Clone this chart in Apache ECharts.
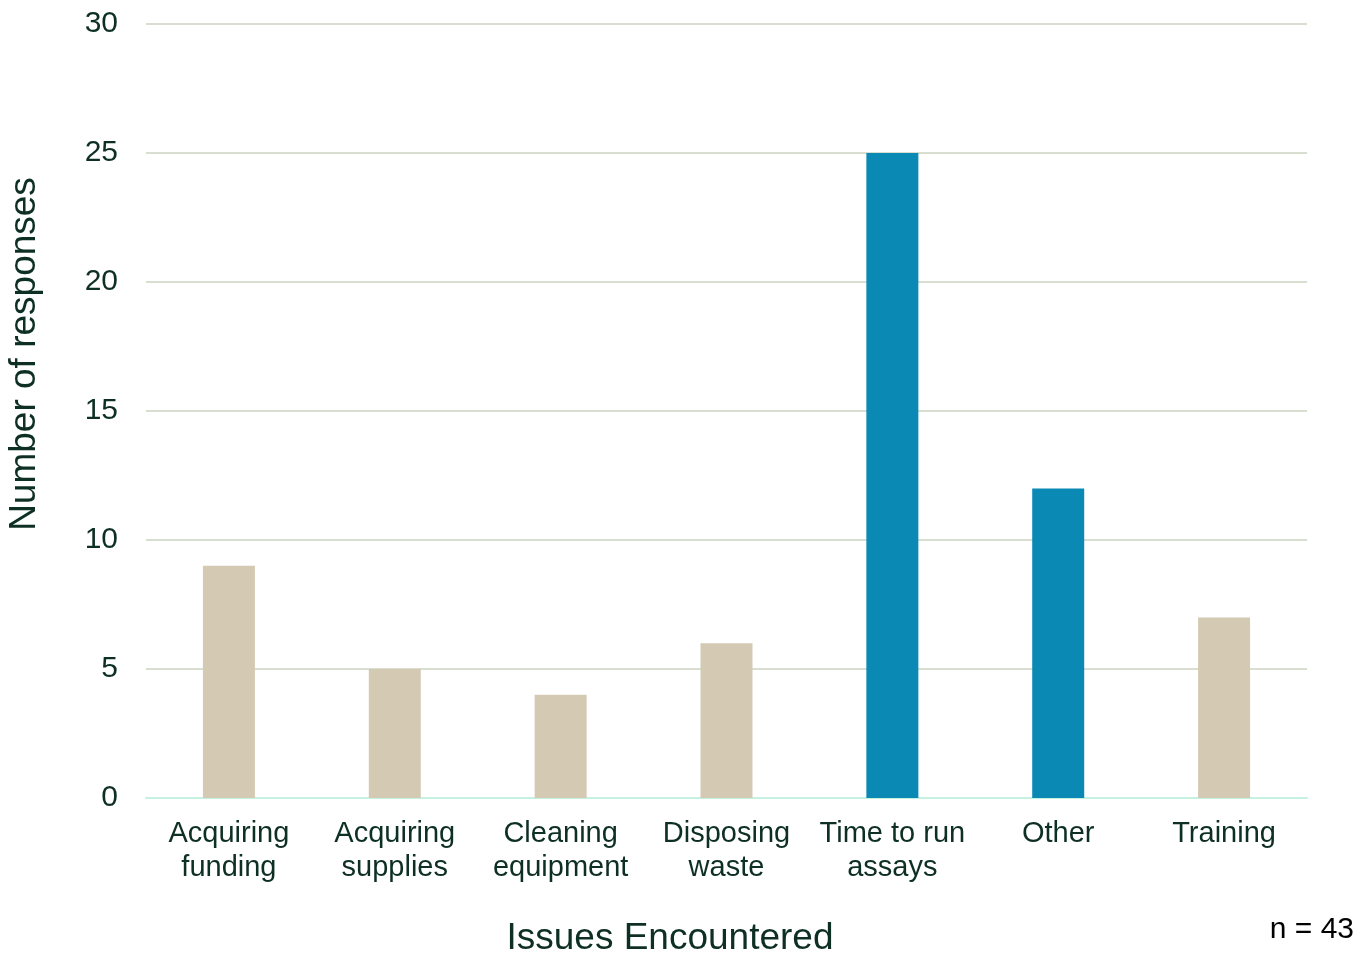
<!DOCTYPE html>
<html><head><meta charset="utf-8">
<script src="https://cdn.jsdelivr.net/npm/echarts@6/dist/echarts.min.js"></script>
<style>html,body{margin:0;padding:0;background:#fff}#c{width:1363px;height:953px}</style>
</head><body><div id="c"></div>
<script>
var categories = ["Acquiring\nfunding","Acquiring\nsupplies","Cleaning\nequipment","Disposing\nwaste","Time to run\nassays","Other","Training"];
var values = [9,5,4,6,25,12,7];
var highlighted = [false,false,false,false,true,true,false];
var yTicks = [0,5,10,15,20,25,30];

var beige = '#D4CAB3', blue = '#0B89B5', textCol = '#0E2F24';
var chart = echarts.init(document.getElementById('c'));
chart.setOption({
  animation:false,
  textStyle:{fontFamily:'Liberation Sans, Arial, sans-serif'},
  grid:{left:146,right:56,top:24,bottom:155,containLabel:false},
  xAxis:{type:'category',data:categories,
    axisLine:{lineStyle:{color:'#C6F0E0',width:2}},axisTick:{show:false},
    axisLabel:{color:textCol,fontSize:29,lineHeight:34,margin:19,interval:0}},
  yAxis:{type:'value',min:yTicks[0],max:yTicks[yTicks.length-1],interval:5,
    axisLine:{show:false},axisTick:{show:false},
    splitLine:{lineStyle:{color:'#D9DFD0',width:2}},
    axisLabel:{color:textCol,fontSize:30,margin:28}},
  series:[{type:'bar',barWidth:52,
    data:values.map(function(v,i){return {value:v,itemStyle:{color:highlighted[i]?blue:beige}};})}],
  graphic:[
    {type:'text',style:{text:'Issues Encountered',fill:textCol,font:'37px Liberation Sans, Arial, sans-serif',textAlign:'center',textVerticalAlign:'middle'},position:[670,939]},
    {type:'text',style:{text:'Number of responses',fill:textCol,font:'37px Liberation Sans, Arial, sans-serif',textAlign:'center',textVerticalAlign:'middle'},position:[25,354],rotation:Math.PI/2},
    {type:'text',style:{text:'n = 43',fill:'#000',font:'30px Liberation Sans, Arial, sans-serif',textAlign:'right',textVerticalAlign:'middle'},position:[1354,930]}
  ]
});
</script></body></html>
